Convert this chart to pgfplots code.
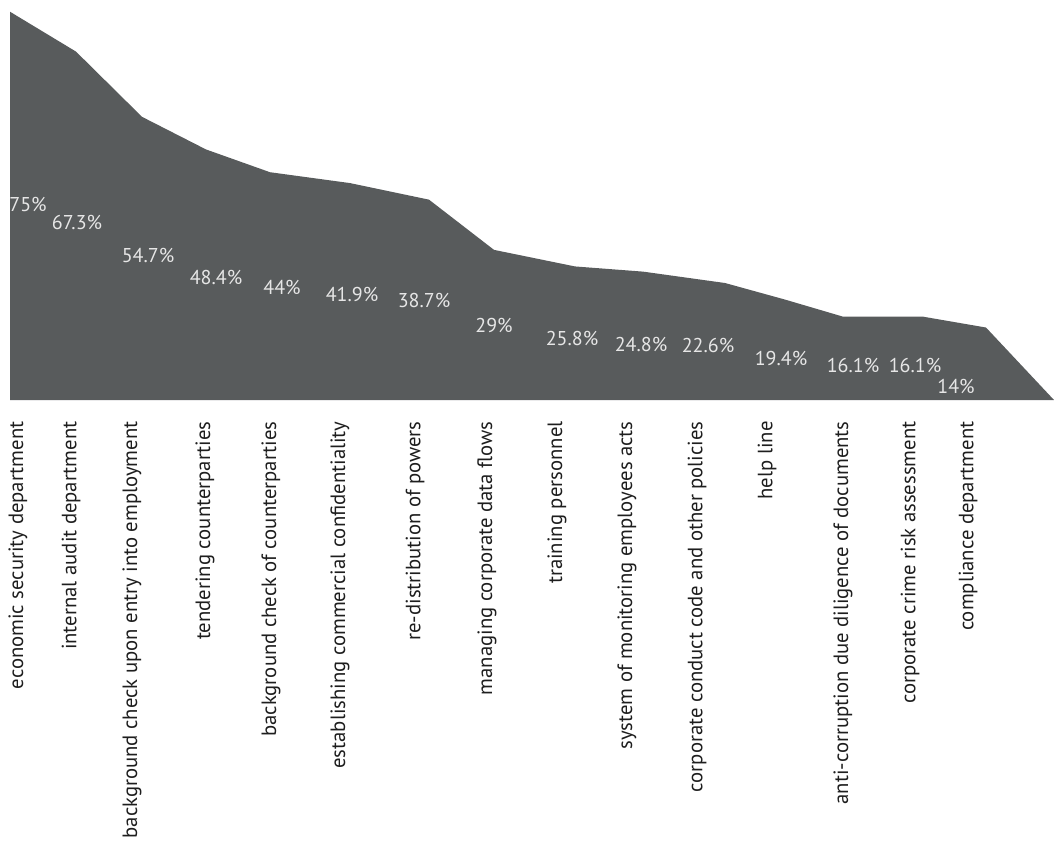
\documentclass[border=0pt]{standalone}
\usepackage{fontspec}
\setmainfont{PT Sans}
\usepackage{pgfplots}
\pgfplotsset{compat=1.18}
\usepackage{pgfplotstable}

\definecolor{areagray}{HTML}{585B5C}
\definecolor{valgray}{HTML}{E6E6E6}
\definecolor{labelink}{HTML}{1E1E1E}

% x: position of the vertex, v: share of respondents (%),
% lx, ly: where the value label sits
\pgfplotstableread{
x    v     lx   ly
10   75    28   37.8
76   67.3  77   34.3
142  54.7  148  27.9
206  48.4  216  23.7
270  44    282  21.7
350  41.9  352  20.4
429  38.7  424  19.2
494  29    494  14.4
575  25.8  572  11.9
643  24.8  641  10.7
725  22.6  708  10.5
785  19.4  781  8.0
843  16.1  853  6.65
923  16.1  915  6.65
986  14    956  2.6
1054 0     0    0
}\measures

\begin{document}
\begin{tikzpicture}
\begin{axis}[
  at={(0,0)}, anchor=south west,
  scale only axis,
  x=0.5pt, y=2.5885pt,
  xmin=0, xmax=1054, ymin=0, ymax=77.27,
  axis line style={draw=none},
  ytick=\empty,
  tick style={draw=none},
  major tick length=0pt,
  xtick={18,71,132,205,271,340,415,487,557,627,697,767,843,910,968},
  xticklabels={
    economic security department,
    internal audit department,
    background check upon entry into employment,
    tendering counterparties,
    background check of counterparties,
    establishing commercial confidentiality,
    re-distribution of powers,
    managing corporate data flows,
    training personnel,
    system of monitoring employees acts,
    corporate conduct code and other policies,
    help line,
    anti-corruption due diligence of documents,
    corporate crime risk assessment,
    compliance department},
  xticklabel style={yshift=-10.5pt, rotate=90, anchor=east, inner sep=0pt,
    font=\fontsize{10.35}{12}\selectfont, text=labelink},
  clip=false,
  /pgf/number format/assume math mode=true,
]
% shaded profile of all measures
\addplot[fill=areagray, draw=none] table[x=x, y=v] {\measures} \closedcycle;
% percentage labels inside the area
\addplot[draw=none, mark=none,
  skip coords between index={15}{16},
  point meta=explicit,
  nodes near coords={\pgfmathprintnumber{\pgfplotspointmeta}\%},
  nodes near coords align=center,
  every node near coord/.append style={anchor=center, inner sep=0pt,
    text=valgray, font=\fontsize{10}{12}\selectfont},
] table[x=lx, y=ly, meta=v] {\measures};
\end{axis}
\pgfresetboundingbox
\path[use as bounding box] (0,-220.5pt) rectangle (527pt,200pt);
\end{tikzpicture}
\end{document}
